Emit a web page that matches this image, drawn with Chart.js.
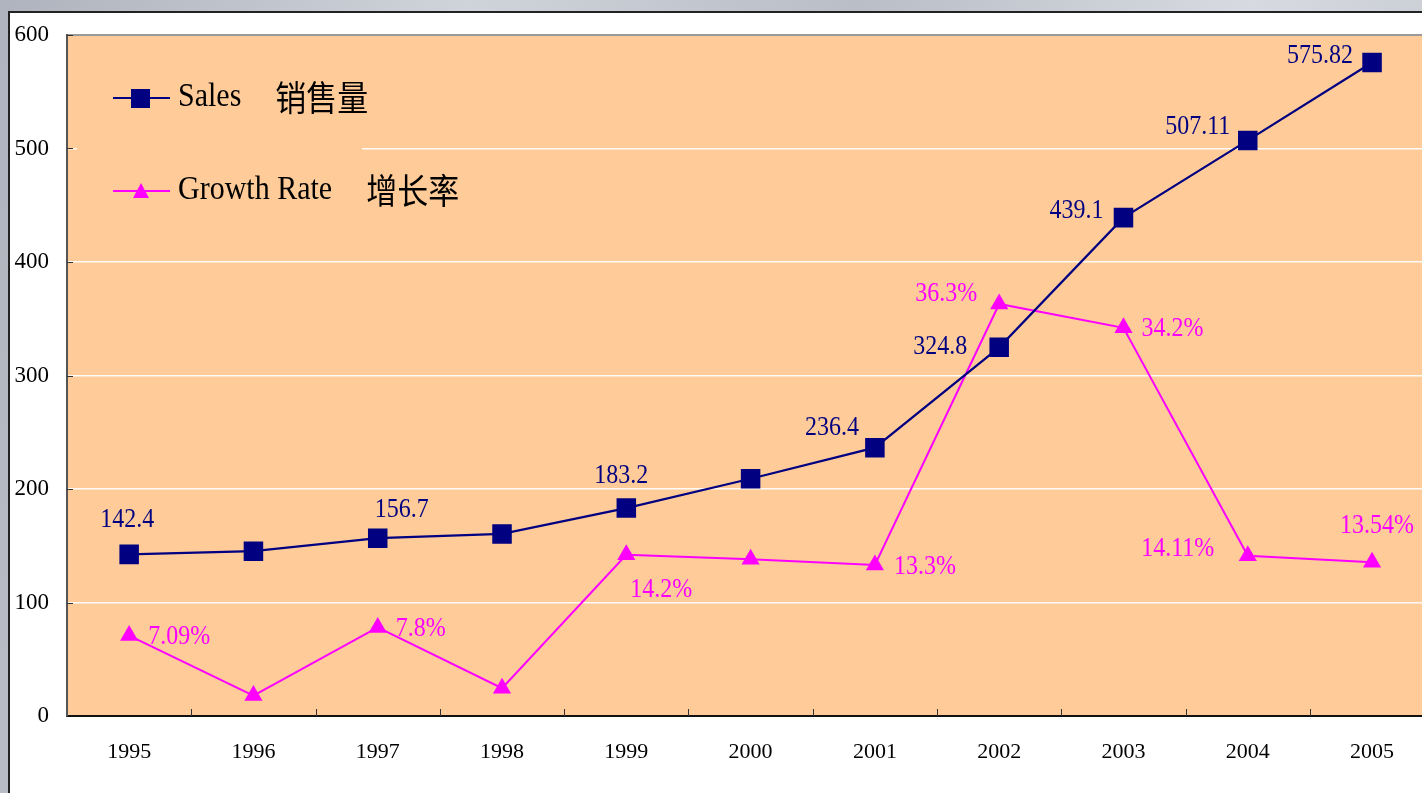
<!DOCTYPE html>
<html>
<head>
<meta charset="utf-8">
<script src="https://cdn.jsdelivr.net/npm/chart.js@4/dist/chart.umd.min.js"></script>
<style>
    html, body { margin: 0; padding: 0; width: 1422px; height: 793px; overflow: hidden; }
    body { background: linear-gradient(100deg, #aeb3bd 0%, #cfd3da 30%, #b9bec7 55%, #d7dae0 80%, #c3c7cf 100%); position: relative; }
    #sheet { position: absolute; left: 8px; top: 11px; width: 1500px; height: 900px; background: #fff;
             border-left: 2px solid #222; border-top: 2px solid #222; }
    #chartCanvas { position: absolute; left: 0; top: 0; }
</style>
</head>
<body>
<div id="sheet"></div>
<canvas id="chartCanvas" width="1448" height="793"></canvas>
<script>
var years = ['1995', '1996', '1997', '1998', '1999', '2000', '2001', '2002', '2003', '2004', '2005'];
var sales = [142.4, 145.2, 156.7, 160.4, 183.2, 209.0, 236.4, 324.8, 439.1, 507.11, 575.82];
var growthRate = [7.09, 1.8, 7.8, 2.45, 14.2, 13.8, 13.3, 36.3, 34.2, 14.11, 13.54];
var salesLabeled = [1, 0, 1, 0, 1, 0, 1, 1, 1, 1, 1];
var rateLabeled = [1, 0, 1, 0, 1, 0, 1, 1, 1, 1, 1];
var seriesNames = ['Sales', 'Growth Rate'];
var seriesNamesCn = ['销售量', '增长率'];
var yTicks = [0, 100, 200, 300, 400, 500, 600];

var serif = '"Liberation Serif", "Times New Roman", serif';
var cjk = '"Noto Sans CJK SC", sans-serif';

// label offsets from the point (px)
var salesOffsets = [[-2, -34], null, [24, -28], null, [-5, -32], null, [-43, -20], [-59, 0], [-47, -7], [-50, -13], [-52, -6]];
var rateOffsets = [[50, 1], null, [43, 1], null, [35, 35], null, [50, 2], [-53, -10], [49, 1], [-70, -7], [5, -36]];

function stretchText(ctx, text, x, y, align){
    ctx.save();
    ctx.translate(x, y);
    ctx.scale(1, 1.12);
    ctx.textAlign = align || 'center';
    ctx.textBaseline = 'middle';
    ctx.fillText(text, 0, 0);
    ctx.restore();
}

var plotBackground = {
    id: 'plotBackground',
    beforeDraw: function(chart){
        var ctx = chart.ctx;
        var a = chart.chartArea;
        ctx.save();
        ctx.fillStyle = '#FFCC99';
        ctx.fillRect(a.left, a.top, a.right - a.left, a.bottom - a.top);
        ctx.strokeStyle = '#9a9a9a';
        ctx.lineWidth = 2;
        ctx.beginPath();
        ctx.moveTo(a.left, a.top);
        ctx.lineTo(a.right + 10, a.top);
        ctx.stroke();
        ctx.restore();
    }
};

var innerTicks = {
    id: 'innerTicks',
    afterDraw: function(chart){
        var ctx = chart.ctx;
        var a = chart.chartArea;
        var x = chart.scales.x;
        var y = chart.scales.y;
        ctx.save();
        ctx.strokeStyle = '#333';
        ctx.lineWidth = 1;
        ctx.beginPath();
        for(var i = 1; i < years.length; i++){
            var px = Math.round((x.getPixelForValue(i - 1) + x.getPixelForValue(i)) / 2) + 0.5;
            ctx.moveTo(px, a.bottom - 7);
            ctx.lineTo(px, a.bottom);
        }
        for(var j = 1; j < yTicks.length; j++){
            var py = Math.round(y.getPixelForValue(yTicks[j])) + 0.5;
            ctx.moveTo(a.left, py);
            ctx.lineTo(a.left + 6, py);
        }
        ctx.stroke();
        ctx.restore();
    }
};

var boxLegend = {
    id: 'boxLegend',
    beforeDatasetsDraw: function(chart){
        var ctx = chart.ctx;
        var rows = [98, 191];
        ctx.save();
        ctx.fillStyle = '#FFCC99';
        ctx.fillRect(77, 56, 285, 170);
        chart.data.datasets.forEach(function(ds, i){
            var yy = rows[i];
            ctx.strokeStyle = ds.borderColor;
            ctx.lineWidth = 2;
            ctx.beginPath();
            ctx.moveTo(113, yy);
            ctx.lineTo(170, yy);
            ctx.stroke();
            ctx.fillStyle = ds.backgroundColor;
            if(ds.pointStyle === 'rect'){
                ctx.fillRect(131, yy - 9, 19, 19);
            } else {
                ctx.beginPath();
                ctx.moveTo(141, yy - 8);
                ctx.lineTo(149, yy + 7);
                ctx.lineTo(133, yy + 7);
                ctx.closePath();
                ctx.fill();
            }
            ctx.fillStyle = '#000';
            ctx.font = '30px ' + serif;
            stretchText(ctx, seriesNames[i], 178, yy - 1, 'left');
            var w = ctx.measureText(seriesNames[i]).width;
            ctx.font = '31px ' + cjk;
            stretchText(ctx, seriesNamesCn[i], 178 + w + 34, yy, 'left');
        });
        ctx.restore();
    }
};

var pointLabels = {
    id: 'pointLabels',
    afterDatasetsDraw: function(chart){
        var ctx = chart.ctx;
        var sets = [
            {meta: chart.getDatasetMeta(0), values: sales, shown: salesLabeled, offsets: salesOffsets, color: '#000080', suffix: ''},
            {meta: chart.getDatasetMeta(1), values: growthRate, shown: rateLabeled, offsets: rateOffsets, color: '#FF00FF', suffix: '%'}
        ];
        ctx.save();
        ctx.font = '24px ' + serif;
        sets.forEach(function(s){
            ctx.fillStyle = s.color;
            s.meta.data.forEach(function(pt, i){
                if(!s.shown[i] || !s.offsets[i]) return;
                stretchText(ctx, String(s.values[i]) + s.suffix, pt.x + s.offsets[i][0], pt.y + s.offsets[i][1]);
            });
        });
        ctx.restore();
    }
};

var config = {
    type: 'line',
    data: {
        labels: years,
        datasets: [{
            label: seriesNames[0] + ' ' + seriesNamesCn[0],
            data: sales,
            yAxisID: 'y',
            borderColor: '#000080',
            backgroundColor: '#000080',
            borderWidth: 2.2,
            pointStyle: 'rect',
            pointRadius: 13.8,
            pointBorderWidth: 0,
            pointBackgroundColor: '#000080',
            tension: 0
        }, {
            label: seriesNames[1] + ' ' + seriesNamesCn[1],
            data: growthRate,
            yAxisID: 'y2',
            borderColor: '#FF00FF',
            backgroundColor: '#FF00FF',
            borderWidth: 2,
            pointStyle: 'triangle',
            pointRadius: 10.5,
            pointBorderWidth: 0,
            pointBackgroundColor: '#FF00FF',
            tension: 0
        }]
    },
    options: {
        responsive: false,
        animation: false,
        events: [],
        layout: { padding: { top: 35, right: 5, left: 0, bottom: 0 } },
        plugins: {
            legend: { display: false },
            tooltip: { enabled: false }
        },
        scales: {
            x: {
                offset: true,
                grid: { display: true, drawOnChartArea: false, drawTicks: false },
                border: { display: true, color: '#111', width: 2 },
                ticks: { color: '#000', font: { family: serif, size: 22 }, padding: 23 },
                afterFit: function(scale){ scale.height = 77; }
            },
            y: {
                position: 'left',
                min: 0,
                max: 600,
                afterBuildTicks: function(scale){
                    scale.ticks = yTicks.map(function(v){ return {value: v}; });
                },
                grid: {
                    drawTicks: false,
                    lineWidth: 1.5,
                    color: function(c){
                        var v = c.tick ? c.tick.value : null;
                        return (v === 0 || v === 600) ? 'rgba(0,0,0,0)' : 'rgba(255,255,255,0.9)';
                    }
                },
                border: { display: true, color: '#555', width: 2 },
                ticks: { color: '#000', font: { family: serif, size: 23 }, padding: 18 },
                afterFit: function(scale){ scale.width = 67; }
            },
            y2: {
                display: false,
                min: 0,
                max: 60
            }
        }
    },
    plugins: [plotBackground, innerTicks, boxLegend, pointLabels]
};

var ctx = document.getElementById('chartCanvas').getContext('2d');
var chart = new Chart(ctx, config);
</script>
</body>
</html>
